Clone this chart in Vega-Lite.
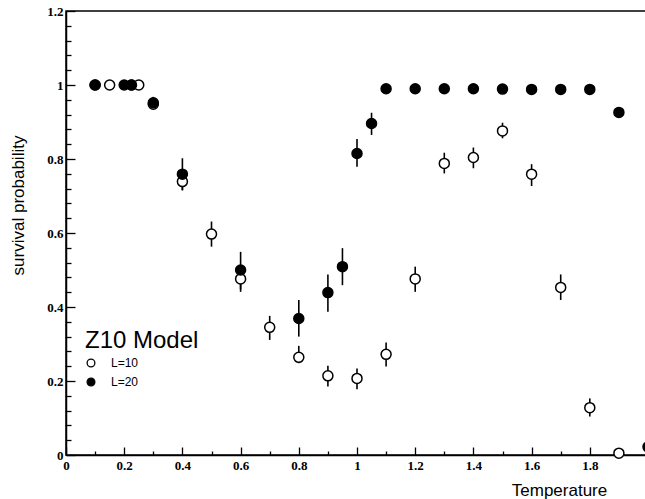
{
  "$schema": "https://vega.github.io/schema/vega-lite/v6.json",
  "autosize": {"type": "none"},
  "padding": {"left": 66, "top": 11, "right": 0, "bottom": 44},
  "width": 582,
  "height": 444,
  "background": "white",
  "config": {
    "view": {"stroke": "black", "strokeWidth": 1.5},
    "axis": {"grid": false, "domainColor": "black", "domainWidth": 1.5, "tickColor": "black", "tickWidth": 1.3, "labelColor": "black", "titleColor": "black"}
  },
  "data": {"values": [
    {"T": 0.1, "p": 1.0, "lo": 1.0, "hi": 1.0, "L": "L=10"},
    {"T": 0.15, "p": 1.0, "lo": 1.0, "hi": 1.0, "L": "L=10"},
    {"T": 0.225, "p": 1.0, "lo": 1.0, "hi": 1.0, "L": "L=10"},
    {"T": 0.25, "p": 1.0, "lo": 1.0, "hi": 1.0, "L": "L=10"},
    {"T": 0.3, "p": 0.948, "lo": 0.935, "hi": 0.962, "L": "L=10"},
    {"T": 0.4, "p": 0.739, "lo": 0.715, "hi": 0.765, "L": "L=10"},
    {"T": 0.5, "p": 0.597, "lo": 0.563, "hi": 0.631, "L": "L=10"},
    {"T": 0.6, "p": 0.476, "lo": 0.448, "hi": 0.505, "L": "L=10"},
    {"T": 0.7, "p": 0.345, "lo": 0.311, "hi": 0.376, "L": "L=10"},
    {"T": 0.8, "p": 0.264, "lo": 0.248, "hi": 0.295, "L": "L=10"},
    {"T": 0.9, "p": 0.214, "lo": 0.185, "hi": 0.241, "L": "L=10"},
    {"T": 1.0, "p": 0.207, "lo": 0.178, "hi": 0.234, "L": "L=10"},
    {"T": 1.1, "p": 0.272, "lo": 0.239, "hi": 0.304, "L": "L=10"},
    {"T": 1.2, "p": 0.476, "lo": 0.441, "hi": 0.509, "L": "L=10"},
    {"T": 1.3, "p": 0.788, "lo": 0.761, "hi": 0.817, "L": "L=10"},
    {"T": 1.4, "p": 0.804, "lo": 0.775, "hi": 0.831, "L": "L=10"},
    {"T": 1.5, "p": 0.876, "lo": 0.856, "hi": 0.898, "L": "L=10"},
    {"T": 1.6, "p": 0.759, "lo": 0.727, "hi": 0.786, "L": "L=10"},
    {"T": 1.7, "p": 0.453, "lo": 0.419, "hi": 0.488, "L": "L=10"},
    {"T": 1.8, "p": 0.128, "lo": 0.104, "hi": 0.153, "L": "L=10"},
    {"T": 1.9, "p": 0.005, "lo": 0.0, "hi": 0.012, "L": "L=10"},
    {"T": 0.1, "p": 1.0, "lo": 1.0, "hi": 1.0, "L": "L=20"},
    {"T": 0.2, "p": 1.0, "lo": 1.0, "hi": 1.0, "L": "L=20"},
    {"T": 0.225, "p": 1.0, "lo": 1.0, "hi": 1.0, "L": "L=20"},
    {"T": 0.3, "p": 0.952, "lo": 0.935, "hi": 0.968, "L": "L=20"},
    {"T": 0.4, "p": 0.759, "lo": 0.716, "hi": 0.802, "L": "L=20"},
    {"T": 0.6, "p": 0.5, "lo": 0.441, "hi": 0.549, "L": "L=20"},
    {"T": 0.8, "p": 0.369, "lo": 0.32, "hi": 0.419, "L": "L=20"},
    {"T": 0.9, "p": 0.439, "lo": 0.387, "hi": 0.488, "L": "L=20"},
    {"T": 0.95, "p": 0.509, "lo": 0.459, "hi": 0.559, "L": "L=20"},
    {"T": 1.0, "p": 0.815, "lo": 0.779, "hi": 0.854, "L": "L=20"},
    {"T": 1.05, "p": 0.896, "lo": 0.865, "hi": 0.925, "L": "L=20"},
    {"T": 1.1, "p": 0.99, "lo": 0.99, "hi": 0.99, "L": "L=20"},
    {"T": 1.2, "p": 0.99, "lo": 0.99, "hi": 0.99, "L": "L=20"},
    {"T": 1.3, "p": 0.99, "lo": 0.99, "hi": 0.99, "L": "L=20"},
    {"T": 1.4, "p": 0.99, "lo": 0.99, "hi": 0.99, "L": "L=20"},
    {"T": 1.5, "p": 0.989, "lo": 0.989, "hi": 0.989, "L": "L=20"},
    {"T": 1.6, "p": 0.988, "lo": 0.988, "hi": 0.988, "L": "L=20"},
    {"T": 1.7, "p": 0.988, "lo": 0.988, "hi": 0.988, "L": "L=20"},
    {"T": 1.8, "p": 0.988, "lo": 0.988, "hi": 0.988, "L": "L=20"},
    {"T": 1.9, "p": 0.926, "lo": 0.912, "hi": 0.94, "L": "L=20"},
    {"T": 2.0, "p": 0.022, "lo": 0.015, "hi": 0.03, "L": "L=20"}
  ]},
  "resolve": {"axis": {"x": "independent", "y": "independent"}},
  "layer": [
    {
      "mark": {"type": "rule", "color": "black", "strokeWidth": 1.6},
      "encoding": {
        "x": {"field": "T", "type": "quantitative", "scale": {"domain": [0, 2], "nice": false, "zero": false},
          "axis": {"orient": "bottom", "values": [0, 0.2, 0.4, 0.6, 0.8, 1, 1.2, 1.4, 1.6, 1.8, 2], "format": "~g", "tickSize": -8, "labelPadding": 12, "labelFont": "Liberation Serif", "labelFontWeight": "bold", "labelFontSize": 13, "labelFlush": false, "labelOverlap": false,
            "title": "Temperature", "titleFont": "Liberation Sans", "titleFontSize": 17, "titleFontWeight": "normal", "titleAnchor": "start", "titleX": 493, "titleY": 40, "titleAlign": "center", "titleBaseline": "alphabetic"}},
        "y": {"field": "lo", "type": "quantitative", "scale": {"domain": [0, 1.2], "nice": false, "zero": false},
          "axis": {"orient": "left", "values": [0, 0.2, 0.4, 0.6, 0.8, 1, 1.2], "format": "~g", "tickSize": -9, "labelPadding": 12, "labelFont": "Liberation Serif", "labelFontWeight": "bold", "labelFontSize": 13, "labelFlush": false, "labelOverlap": false,
            "title": "survival probability", "titleFont": "Liberation Sans", "titleFontSize": 17, "titleFontWeight": "normal", "titleAngle": -90, "titleX": -48, "titleY": 194, "titleAlign": "center", "titleBaseline": "middle"}},
        "y2": {"field": "hi"}
      }
    },
    {
      "mark": {"type": "point", "shape": "circle", "filled": true, "stroke": "black", "strokeWidth": 1.5, "size": 100, "opacity": 1},
      "encoding": {
        "x": {"field": "T", "type": "quantitative", "scale": {"domain": [0, 2], "nice": false, "zero": false},
          "axis": {"orient": "bottom", "values": [0.1, 0.3, 0.5, 0.7, 0.9, 1.1, 1.3, 1.5, 1.7, 1.9], "tickSize": -4, "labels": false, "domain": false, "title": null}},
        "y": {"field": "p", "type": "quantitative", "scale": {"domain": [0, 1.2], "nice": false, "zero": false},
          "axis": {"orient": "left", "values": [0.04, 0.08, 0.12, 0.16, 0.24, 0.28, 0.32, 0.36, 0.44, 0.48, 0.52, 0.56, 0.64, 0.68, 0.72, 0.76, 0.84, 0.88, 0.92, 0.96, 1.04, 1.08, 1.12, 1.16], "tickSize": -5, "labels": false, "domain": false, "title": null}},
        "fill": {"field": "L", "type": "nominal", "scale": {"domain": ["L=10", "L=20"], "range": ["white", "black"]},
          "legend": {"orient": "none", "legendX": 19, "legendY": 318, "title": "Z10 Model", "titleFont": "Liberation Sans", "titleFontSize": 24, "titleFontWeight": "normal", "titleColor": "black", "titlePadding": 4, "symbolType": "circle", "symbolSize": 60, "symbolStrokeColor": "black", "symbolStrokeWidth": 1.3, "labelFont": "Liberation Sans", "labelFontSize": 12, "labelColor": "black", "labelOffset": 14, "rowPadding": 5}}
      }
    }
  ]
}
